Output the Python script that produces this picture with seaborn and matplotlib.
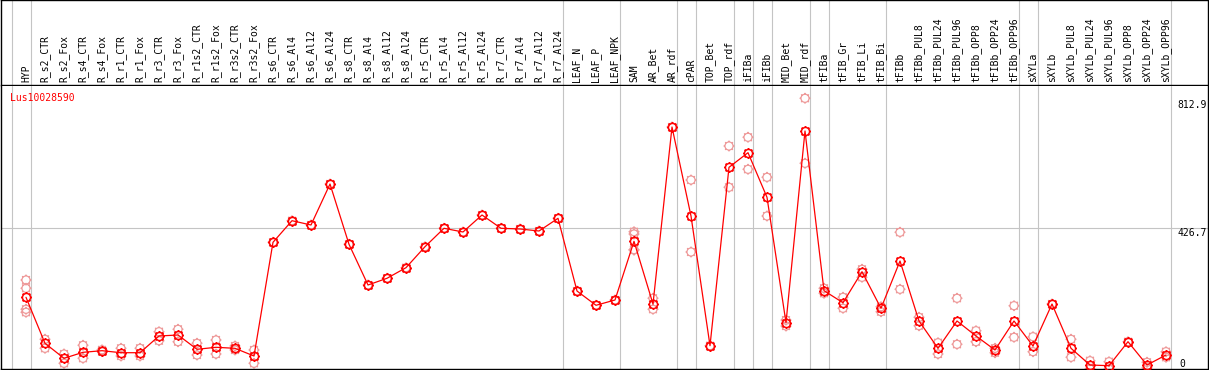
import numpy as np
import pandas as pd
import matplotlib
matplotlib.use("Agg")
import matplotlib.pyplot as plt
import matplotlib.transforms as mtransforms
from matplotlib.path import Path
import seaborn as sns

# -------------------------------------------------------------------
# Data
# -------------------------------------------------------------------

GENE = "Lus10028590"

samples = [
    "HYP",
    "R_s2_CTR", "R_s2_Fox", "R_s4_CTR", "R_s4_Fox", "R_r1_CTR", "R_r1_Fox",
    "R_r3_CTR", "R_r3_Fox", "R_r1s2_CTR", "R_r1s2_Fox", "R_r3s2_CTR", "R_r3s2_Fox",
    "R_s6_CTR", "R_s6_Al4", "R_s6_Al12", "R_s6_Al24",
    "R_s8_CTR", "R_s8_Al4", "R_s8_Al12", "R_s8_Al24",
    "R_r5_CTR", "R_r5_Al4", "R_r5_Al12", "R_r5_Al24",
    "R_r7_CTR", "R_r7_Al4", "R_r7_Al12", "R_r7_Al24",
    "LEAF_N", "LEAF_P", "LEAF_NPK",
    "SAM", "AR_Bet", "AR_rdf",
    "cPAR",
    "TOP_Bet", "TOP_rdf",
    "iFIBa",
    "iFIBb",
    "MID_Bet", "MID_rdf",
    "tFIBa",
    "tFIB_Gr", "tFIB_Li", "tFIB_Bi",
    "tFIBb", "tFIBb_PUL8", "tFIBb_PUL24", "tFIBb_PUL96",
    "tFIBb_OPP8", "tFIBb_OPP24", "tFIBb_OPP96",
    "sXYLa",
    "sXYLb", "sXYLb_PUL8", "sXYLb_PUL24", "sXYLb_PUL96",
    "sXYLb_OPP8", "sXYLb_OPP24", "sXYLb_OPP96",
]

# number of samples in each tissue group (separated by grey lines)
group_sizes = [1, 28, 3, 3, 1, 2, 1, 1, 2, 1, 3, 7, 1, 7]

mean_expr = [
    217.0,
    77.8, 32.4, 50.5, 55.4, 49.3, 49.3,
    99.9, 102.9, 59.6, 65.7, 62.6, 39.3,
    383.4, 448.8, 435.8, 559.8,
    377.4, 254.2, 274.5, 306.6,
    370.1, 425.8, 414.6, 466.0,
    425.8, 423.7, 417.6, 456.0,
    236.0, 192.8, 208.8,
    386.4, 196.7, 732.3,
    463.0,
    70.5, 610.4,
    654.6,
    519.6,
    140.1, 720.2,
    237.0,
    200.6, 294.4, 183.7,
    326.8, 145.3, 62.6, 145.3,
    99.9, 57.5, 145.3,
    69.6,
    196.7, 62.6, 12.1, 10.0,
    82.6, 12.1, 42.4,
]

rep_expr = [
    [269.3, 244.2, 180.7, 171.6],
    [89.9, 62.6], [45.4, 17.2], [71.7, 32.4], [53.0, 58.0], [62.6, 39.3], [62.6, 39.3],
    [112.9, 85.6], [120.1, 82.6], [77.8, 42.4], [87.8, 45.4], [69.6, 57.5], [57.5, 17.2],
    [383.4], [448.8], [435.8], [559.8],
    [377.4], [254.2], [274.5], [306.6],
    [370.1], [425.8], [414.6], [466.0],
    [425.8], [423.7], [417.6], [456.0],
    [236.0], [192.8], [208.8],
    [415.5, 408.5, 360.1, 361.0], [214.0, 180.7], [732.3],
    [571.9, 354.1],
    [70.5], [674.8, 549.9],
    [701.2, 604.3],
    [580.1, 463.0],
    [130.1, 148.0], [819.2, 622.5],
    [244.2, 229.1],
    [217.0, 183.7], [301.7, 277.5], [188.5, 173.4],
    [413.7, 241.2], [156.5, 131.0], [79.6, 45.4], [214.0, 74.7],
    [115.9, 82.6], [62.6, 49.3], [191.6, 95.9],
    [97.7, 52.4],
    [196.7], [89.9, 35.4], [25.1, 0.0], [22.1, 0.0],
    [82.6], [20.3, 3.9], [52.4, 35.4],
]

y_ticks = [0, 426.7, 812.9]
y_tick_labels = ["0", "426.7", "812.9"]

# -------------------------------------------------------------------
# Build frames
# -------------------------------------------------------------------

df_mean = pd.DataFrame({"pos": np.arange(len(samples)), "sample": samples,
                        "expr": mean_expr})
rows = []
for i, reps in enumerate(rep_expr):
    for v in reps:
        rows.append({"pos": i, "expr": v})
df_rep = pd.DataFrame(rows)

# boundaries after the last sample of each group (plus one before the first)
bounds = [-1] + list(np.cumsum(group_sizes) - 1)

# "sun" marker: circle with small radial ticks
angles = np.deg2rad(np.arange(0, 360, 45))
ticks = [Path([(np.cos(a), np.sin(a)), (1.35 * np.cos(a), 1.35 * np.sin(a))])
         for a in angles]
sun = Path.make_compound_path(Path.unit_circle(), *ticks)

# -------------------------------------------------------------------
# Figure
# -------------------------------------------------------------------

sns.set_style("white")
plt.rcParams["font.family"] = ["DejaVu Sans Mono"]

W, H = 1209, 370
fig = plt.figure(figsize=(W / 100, H / 100), dpi=100)

x0 = (1 - 26) / 19
x1 = (1208 - 26) / 19
offset = 5 / 19  # grey lines sit just right of each column's point

ax_head = fig.add_axes([1 / W, (H - 85) / H, 1207 / W, 85 / H])
ax = fig.add_axes([1 / W, 1 / H, 1207 / W, 283 / H])

for a in (ax_head, ax):
    a.set_xlim(x0, x1)
    a.set_xticks([])
    a.set_yticks([])
    for b in bounds:
        a.axvline(b + offset, color="#c4c4c4", lw=0.8, zorder=0)
    for s in a.spines.values():
        s.set_color("black")
        s.set_linewidth(1.0)

ax_head.set_ylim(0, 1)
ax.spines["top"].set_visible(False)

# sample labels in the header
for i, name in enumerate(samples):
    ax_head.text(i, 0.03, name, rotation=90, ha="center", va="bottom",
                 fontsize=7, color="black")

# plot area
ax.set_ylim(0, 856.4)
ax.axhline(y_ticks[1], color="#c4c4c4", lw=0.8, zorder=0)

sns.scatterplot(data=df_rep, x="pos", y="expr", ax=ax, marker=sun, s=62,
                color="#ee9a9a", facecolor="none", edgecolor="#ee9a9a",
                linewidth=0.9, zorder=2, legend=False)
sns.lineplot(data=df_mean, x="pos", y="expr", ax=ax, sort=False,
             color="red", lw=0.9, marker=sun, markersize=7.9,
             markerfacecolor="none", markeredgecolor="red",
             markeredgewidth=1.1, zorder=3)
ax.set_xlabel("")
ax.set_ylabel("")

# y labels on the right
trans = mtransforms.blended_transform_factory(ax.transAxes, ax.transData)
for v, lab in zip(y_ticks, y_tick_labels):
    if v == 0:
        ax.text(0.9765, v, lab, transform=trans, ha="left", va="bottom",
                fontsize=7, color="black")
    else:
        ax.text(0.9745, v, lab, transform=trans, ha="left", va="top",
                fontsize=7, color="black")

fig.text(10 / W, (H - 98) / H, GENE, color="red", fontsize=7,
         ha="left", va="center")

fig.savefig("out.png", dpi=100)
